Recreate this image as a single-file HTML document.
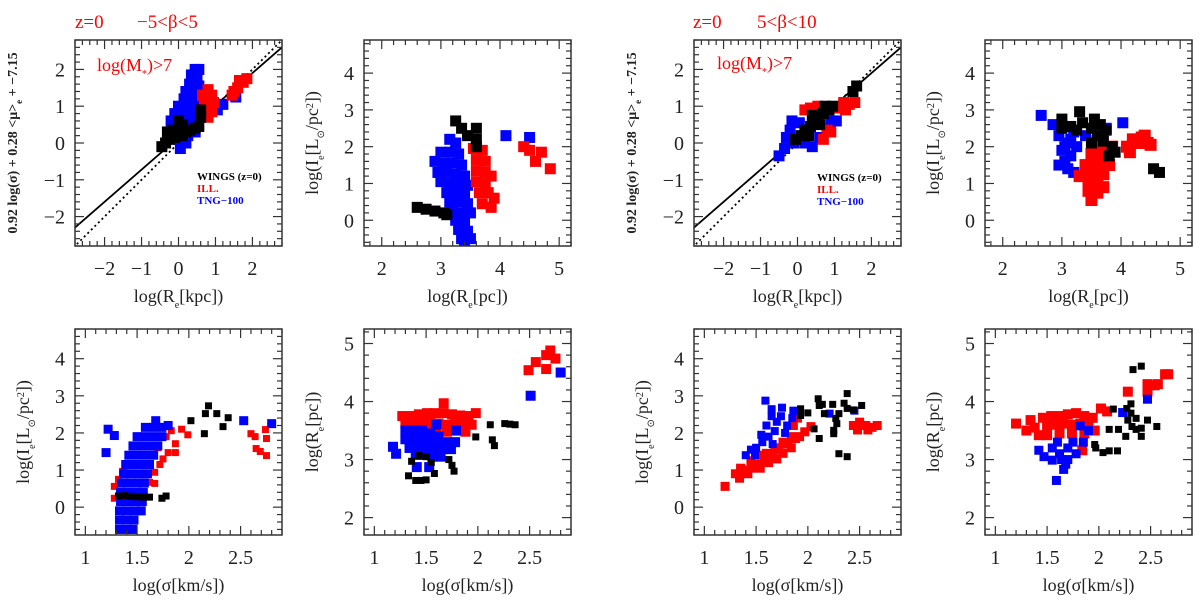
<!DOCTYPE html>
<html><head><meta charset="utf-8">
<style>
html,body{margin:0;padding:0;background:#fff;}
svg{display:block;}
text{font-family:"Liberation Serif",serif;}
</style></head>
<body>
<svg id="fig" width="1200" height="606" viewBox="0 0 1200 606" xmlns="http://www.w3.org/2000/svg">
<g>
<text x="75" y="28" fill="#f00" font-size="19">z=0</text>
<text x="137" y="28" fill="#f00" font-size="19">−5&lt;β&lt;5</text>
<text x="693" y="28" fill="#f00" font-size="19">z=0</text>
<text x="757" y="28" fill="#f00" font-size="19">5&lt;β&lt;10</text>
</g>
</svg>
<script>
// ---- data arrays ----
const p1Blue=[[0.45,2.0],[0.55,2.0],[0.35,1.85],[0.5,1.8],[0.3,1.6],[0.45,1.6],[0.55,1.55],[0.2,1.4],[0.35,1.4],[0.5,1.35],[0.15,1.2],[0.3,1.2],[0.45,1.15],[0.6,1.1],[0.0,1.0],[0.15,1.0],[0.3,1.0],[0.45,0.95],[-0.1,0.8],[0.05,0.8],[0.2,0.8],[0.4,0.75],[0.55,0.7],[-0.2,0.6],[0.1,0.55],[0.3,0.5],[0.5,0.45],[0.1,0.3],[0.25,0.2],[0.45,0.3],[0.0,0.1],[0.2,0.0],[0.05,-0.15],[1.05,0.9],[1.2,1.05],[1.55,1.25]];
const p1Red=[[0.65,1.3],[0.8,1.45],[0.9,1.3],[0.7,1.1],[0.85,1.1],[0.75,0.9],[0.9,0.85],[0.8,0.7],[0.95,1.1],[1.45,1.3],[1.6,1.5],[1.75,1.65],[1.85,1.75],[1.65,1.7],[1.5,1.4]];
const p1Black=[[-0.45,-0.1],[-0.35,0.0],[-0.25,0.1],[-0.3,0.3],[-0.15,0.35],[0.0,0.4],[0.0,0.6],[0.1,0.5],[0.2,0.3],[0.3,0.35],[0.45,0.4],[0.55,0.45],[0.6,0.7],[0.6,0.9],[0.1,0.2],[-0.1,0.15]];
const p3Blue=[[-0.5,-0.35],[-0.35,-0.15],[-0.3,0.15],[-0.2,0.35],[-0.15,0.6],[0.05,0.55],[0.2,0.0],[0.4,-0.1],[0.6,0.15],[0.8,0.4],[1.05,0.6],[0.9,0.6],[-0.1,0.0]];
const p3Red=[[0.2,0.9],[0.35,0.95],[0.55,1.0],[0.8,0.35],[0.7,0.1],[0.9,0.3],[1.1,0.95],[1.3,0.9],[1.4,1.05],[1.55,1.1],[1.25,1.1]];
const p3Black=[[-0.05,0.1],[0.1,0.2],[0.2,0.35],[0.35,0.45],[0.45,0.55],[0.55,0.7],[0.7,0.8],[0.85,0.9],[0.95,1.0],[0.4,0.75],[0.6,0.5],[0.3,0.2],[1.5,1.4],[1.6,1.55],[0.75,1.0]];
const fitSolid=[[-2.8,-2.3],[2.8,2.6]];
const fitDotted=[[-2.75,-2.75],[2.8,2.8]];
const p2Blue=[[3.15,2.2],[3.25,2.1],[3.0,1.85],[3.15,1.85],[3.3,1.8],[2.9,1.6],[3.05,1.55],[3.2,1.55],[3.35,1.5],[2.95,1.3],[3.1,1.3],[3.25,1.25],[3.4,1.2],[3.0,1.05],[3.15,1.0],[3.3,1.0],[3.45,0.95],[3.1,0.75],[3.25,0.75],[3.4,0.7],[3.15,0.5],[3.3,0.5],[3.45,0.45],[3.2,0.25],[3.35,0.2],[3.5,0.2],[3.25,0.0],[3.4,-0.05],[3.3,-0.25],[3.45,-0.3],[3.35,-0.5],[3.5,-0.5],[3.4,-0.65],[4.1,2.3],[4.5,2.25]];
const p2Red=[[3.55,1.95],[3.7,1.9],[3.6,1.65],[3.75,1.6],[3.6,1.35],[3.75,1.3],[3.85,1.2],[3.6,1.05],[3.75,1.0],[3.65,0.75],[3.8,0.75],[3.9,0.6],[3.7,0.45],[3.85,0.35],[4.4,2.0],[4.5,1.9],[4.7,1.85],[4.6,1.6],[4.85,1.4]];
const p2Black=[[3.25,2.7],[3.35,2.5],[3.45,2.3],[3.6,2.5],[3.6,2.2],[3.6,2.0],[2.6,0.35],[2.75,0.3],[2.9,0.25],[3.05,0.2],[3.1,0.15]];
const p4Blue=[[2.65,2.85],[4.03,2.65],[2.85,2.6],[3.0,2.6],[2.95,2.3],[3.1,2.1],[3.0,1.9],[3.15,1.75],[2.95,1.5],[3.1,1.4],[3.2,1.3],[3.25,2.0],[3.4,2.3],[3.5,2.0],[3.7,2.3],[3.75,2.5],[3.55,1.8],[3.05,2.0],[3.2,2.4],[3.05,1.6],[3.15,2.2]];
const p4Red=[[3.3,1.2],[3.45,1.0],[3.5,1.3],[3.6,1.0],[3.7,1.25],[3.55,1.6],[3.7,1.6],[3.8,1.5],[3.6,1.9],[3.75,1.9],[3.85,2.0],[3.5,0.55],[3.6,0.75],[3.4,1.5],[3.6,2.15],[3.45,1.15],[3.4,1.25],[3.55,1.4],[3.65,1.4],[3.5,1.8],[3.7,0.9],[3.45,0.8],[4.1,2.0],[4.2,2.2],[4.35,2.25],[4.45,2.1],[4.4,2.3],[4.15,1.85],[4.5,2.05],[4.3,2.1]];
const p4Black=[[3.0,2.75],[3.0,2.5],[3.15,2.55],[3.3,2.95],[3.35,2.65],[3.25,2.45],[3.55,2.75],[3.5,2.5],[3.65,2.6],[3.75,2.45],[3.6,2.3],[3.5,2.1],[3.7,2.15],[3.85,2.0],[3.9,1.85],[3.8,1.75],[4.55,1.4],[4.65,1.3]];
const p5Red=[[1.83,2.06],[1.93,2.1],[1.99,1.95],[1.87,1.71],[1.87,1.47],[1.8,1.47],[1.72,1.15],[1.67,0.94],[1.67,0.64],[1.62,0.67],[1.36,0.96],[1.32,0.75],[1.28,0.56],[1.28,0.24],[1.78,1.9],[1.75,1.3],[1.7,1.6],[2.6,1.98],[2.64,1.9],[2.74,2.09],[2.75,1.85],[2.65,1.58],[2.69,1.5],[2.75,1.39]];
const p5Blue=[[1.33,-0.6],[1.4,-0.6],[1.46,-0.6],[1.33,-0.35],[1.4,-0.35],[1.47,-0.35],[1.33,-0.1],[1.4,-0.1],[1.48,-0.1],[1.54,-0.1],[1.34,0.15],[1.41,0.15],[1.48,0.15],[1.55,0.15],[1.34,0.4],[1.41,0.4],[1.49,0.4],[1.56,0.4],[1.35,0.65],[1.42,0.65],[1.5,0.65],[1.57,0.65],[1.37,0.9],[1.44,0.9],[1.52,0.9],[1.6,0.9],[1.39,1.15],[1.46,1.15],[1.54,1.15],[1.62,1.15],[1.42,1.4],[1.5,1.4],[1.58,1.4],[1.66,1.4],[1.46,1.65],[1.54,1.65],[1.62,1.65],[1.7,1.65],[1.5,1.9],[1.58,1.9],[1.66,1.9],[1.74,1.9],[1.58,2.15],[1.66,2.15],[1.74,2.15],[1.68,2.33],[1.8,2.2],[1.22,2.1],[1.28,1.93],[1.2,1.47],[2.53,2.33],[2.8,2.25]];
const p5Black=[[2.02,2.33],[2.16,2.52],[2.19,2.73],[2.27,2.52],[2.38,2.41],[2.33,2.17],[2.15,1.98],[1.32,0.3],[1.38,0.31],[1.44,0.29],[1.5,0.28],[1.56,0.27],[1.62,0.27],[1.74,0.24],[1.78,0.3]];
const p6Red=[[1.27,3.75],[1.35,3.75],[1.43,3.78],[1.51,3.8],[1.59,3.8],[1.67,3.97],[1.67,3.8],[1.75,3.78],[1.83,3.76],[1.91,3.75],[1.98,3.8],[1.3,3.62],[1.38,3.62],[1.46,3.64],[1.54,3.64],[1.62,3.62],[1.7,3.6],[1.78,3.62],[1.86,3.6],[1.94,3.6],[1.6,3.5],[1.7,3.48],[1.8,3.5],[1.88,3.48],[1.52,3.52],[2.49,4.54],[2.56,4.68],[2.66,4.8],[2.7,4.88],[2.75,4.74],[2.66,4.56]];
const p6Blue=[[1.3,3.5],[1.38,3.5],[1.46,3.5],[1.54,3.45],[1.62,3.4],[1.3,3.35],[1.38,3.35],[1.46,3.35],[1.54,3.3],[1.62,3.3],[1.7,3.3],[1.78,3.3],[1.34,3.2],[1.42,3.2],[1.5,3.2],[1.58,3.18],[1.66,3.18],[1.74,3.18],[1.4,3.08],[1.48,3.08],[1.56,3.05],[1.64,3.05],[1.18,3.22],[1.21,3.1],[1.41,2.87],[1.53,2.87],[1.6,3.6],[1.79,3.5],[2.51,4.1],[2.8,4.5]];
const p6Black=[[1.33,2.72],[1.4,2.64],[1.45,2.64],[1.5,2.65],[1.36,2.97],[1.43,3.07],[1.5,3.05],[1.58,2.76],[1.55,2.95],[1.72,3.0],[1.75,2.9],[1.77,2.8],[1.98,3.39],[2.12,3.6],[2.14,3.34],[2.16,3.24],[2.26,3.62],[2.31,3.61],[2.36,3.6]];
const p7Red=[[1.2,0.56],[1.3,0.9],[1.34,0.78],[1.38,1.0],[1.42,0.9],[1.46,1.05],[1.5,1.15],[1.54,1.05],[1.58,1.25],[1.62,1.2],[1.66,1.4],[1.7,1.3],[1.72,1.55],[1.76,1.45],[1.8,1.7],[1.84,1.6],[1.88,1.85],[1.92,1.9],[1.86,2.2],[1.9,2.4],[1.97,2.03],[2.03,2.17],[1.55,1.4],[1.45,1.25],[1.35,1.05],[1.6,1.45],[1.68,1.6],[1.76,1.75],[1.84,1.9],[2.44,2.2],[2.5,2.29],[2.56,2.2],[2.62,2.15],[2.67,2.2],[2.48,2.08],[2.58,2.08]];
const p7Blue=[[1.59,2.87],[1.65,2.64],[1.75,2.68],[1.86,2.6],[1.49,1.39],[1.4,1.4],[1.5,1.6],[1.56,1.75],[1.62,1.9],[1.68,2.05],[1.6,2.2],[1.7,2.3],[1.74,2.45],[1.8,2.2],[1.78,2.0],[1.85,2.4],[1.66,1.7],[1.45,1.55],[1.55,1.95],[1.65,2.45],[2.21,2.52],[2.45,2.6]];
const p7Black=[[1.93,2.65],[1.93,2.47],[2.0,2.54],[2.06,2.11],[2.1,2.92],[2.11,2.74],[2.14,2.77],[2.24,2.77],[2.16,2.52],[2.11,1.85],[2.25,2.07],[2.27,2.39],[2.3,2.52],[2.28,2.25],[2.25,1.98],[2.3,1.44],[2.38,3.06],[2.35,2.8],[2.38,2.66],[2.44,2.62],[2.52,2.74],[2.38,1.36]];
const p8Red=[[1.2,3.62],[1.34,3.68],[1.3,3.5],[1.38,3.55],[1.46,3.72],[1.54,3.75],[1.62,3.75],[1.7,3.78],[1.78,3.8],[1.86,3.75],[1.94,3.72],[1.42,3.42],[1.5,3.58],[1.58,3.6],[1.66,3.62],[1.74,3.6],[1.82,3.62],[1.9,3.58],[1.5,3.42],[1.62,3.45],[1.74,3.45],[1.86,3.45],[1.96,3.5],[2.02,3.88],[2.08,3.83],[1.84,3.16],[2.28,4.17],[2.47,4.3],[2.54,4.28],[2.47,4.17],[2.64,4.47],[2.67,4.47],[2.57,4.3]];
const p8Blue=[[1.42,3.16],[1.47,3.05],[1.55,2.99],[1.66,2.83],[1.59,2.64],[1.82,3.58],[1.9,3.5],[1.55,3.2],[1.62,3.1],[1.7,3.2],[1.7,3.0],[1.78,3.1],[1.85,3.3],[1.6,3.3],[1.68,2.92],[1.75,3.3],[1.64,3.0],[2.23,3.81],[2.47,4.04]];
const p8Black=[[1.96,3.26],[1.97,3.2],[2.04,3.12],[2.1,3.15],[2.18,3.15],[2.1,3.52],[2.19,3.52],[2.14,3.87],[2.26,3.4],[2.27,3.88],[2.31,3.96],[2.28,3.68],[2.31,3.8],[2.36,3.71],[2.32,3.57],[2.36,3.52],[2.41,3.54],[2.41,3.4],[2.47,3.68],[2.56,3.57],[2.33,4.55],[2.41,4.61]];
const xTicksRe=["−2","−1","0","1","2"];
const xTicksRpc=["2","3","4","5"];
const xTicksSig=["1","1.5","2","2.5"];
const yTicksFP=["−2","−1","0","1","2"];
const yTicksI=["0","1","2","3","4"];
const yTicksR=["2","3","4","5"];

const NS="http://www.w3.org/2000/svg";
const svg=document.getElementById('fig');
function el(tag,attrs,parent){const e=document.createElementNS(NS,tag);for(const k in attrs)e.setAttribute(k,attrs[k]);(parent||svg).appendChild(e);return e;}

const COLX=[75,364,694,985], ROWY=[40,329], W=207, H=206;
function panel(name,col,row,xr,yr,xMaj,xMin,yMaj,yMin,xt,yt,xTitle,yTitle,series,extra){
  const x0=COLX[col],y0=ROWY[row];
  const g=el('g',{});
  
  
  const sx=v=>x0+(v-xr[0])/(xr[1]-xr[0])*W;
  const sy=v=>y0+H-(v-yr[0])/(yr[1]-yr[0])*H;
  const clip=el('clipPath',{id:'c'+name},g);
  el('rect',{x:x0,y:y0,width:W,height:H},clip);
  const pts=el('g',{'clip-path':'url(#c'+name+')'},g);
  
  
  if(extra)extra(pts,sx,sy);
  series.forEach(s=>{
    s.data.forEach(p=>{
      const r=el('rect',{x:sx(p[0])-s.sz/2,y:sy(p[1])-s.sz/2,width:s.sz,height:s.sz,fill:s.color},pts);
      
      
    });
  });
  const tk=el('g',{stroke:'#333','stroke-width':1.2},g);
  
  
  const eps=1e-6;
  for(let v=Math.ceil(xr[0]/xMin-eps)*xMin; v<=xr[1]+eps; v+=xMin){
    const maj=Math.abs(v/xMaj-Math.round(v/xMaj))<1e-3, L=maj?9:5, X=sx(v);
    el('line',{x1:X,y1:y0+H,x2:X,y2:y0+H-L},tk);el('line',{x1:X,y1:y0,x2:X,y2:y0+L},tk);
  }
  for(let v=Math.ceil(yr[0]/yMin-eps)*yMin; v<=yr[1]+eps; v+=yMin){
    const maj=Math.abs(v/yMaj-Math.round(v/yMaj))<1e-3, L=maj?9:5, Y=sy(v);
    el('line',{x1:x0,y1:Y,x2:x0+L,y2:Y},tk);el('line',{x1:x0+W,y1:Y,x2:x0+W-L,y2:Y},tk);
  }
  const fr=el('rect',{x:x0,y:y0,width:W,height:H,fill:'none',stroke:'#333','stroke-width':1.5},g);
  
  
  xt.forEach(t=>{const v=parseFloat(t.replace('−','-'));
    const e=el('text',{x:sx(v),y:y0+H+29,'text-anchor':'middle','font-size':20,fill:'#222'},g);e.textContent=t;
    
    });
  yt.forEach(t=>{const v=parseFloat(t.replace('−','-'));
    const e=el('text',{x:x0-10,y:sy(v)+7,'text-anchor':'end','font-size':20,fill:'#222'},g);e.textContent=t;
    
    });
  const xtEl=el('text',{x:x0+W/2,y:y0+H+56,'text-anchor':'middle','font-size':18,fill:'#222'},g);
  xtEl.innerHTML=xTitle;
  
  
  const ytEl=el('text',{transform:`translate(${x0-(yTitle.sans?58:46)},${y0+H/2}) rotate(-90)`,'text-anchor':'middle','font-size':yTitle.sans?14:18,fill:'#222'},g);
  if(yTitle.sans){ytEl.setAttribute('font-family','"Liberation Sans",sans-serif');ytEl.setAttribute('font-weight','bold');}
  ytEl.innerHTML=yTitle.t;
  
  
}
const tRe='log(R<tspan baseline-shift="sub" font-size="10">e</tspan>[kpc])';
const tRpc='log(R<tspan baseline-shift="sub" font-size="10">e</tspan>[pc])';
const tSig='log(σ[km/s])';
const tI='log(I<tspan baseline-shift="sub" font-size="10">e</tspan>[L<tspan baseline-shift="sub" font-size="10">⊙</tspan>/pc<tspan baseline-shift="super" font-size="10">2</tspan>])';
const tFP={t:'0.92 log(σ) + 0.28 &lt;μ&gt;<tspan baseline-shift="sub" font-size="9">e</tspan> + −7.15',sans:true};
function fpExtra(){return (g,sx,sy)=>{
  const a=el('line',{x1:sx(fitSolid[0][0]),y1:sy(fitSolid[0][1]),x2:sx(fitSolid[1][0]),y2:sy(fitSolid[1][1]),stroke:'#000','stroke-width':1.8},g);
  
  
  const b=el('line',{x1:sx(fitDotted[0][0]),y1:sy(fitDotted[0][1]),x2:sx(fitDotted[1][0]),y2:sy(fitDotted[1][1]),stroke:'#000','stroke-width':1.8,'stroke-dasharray':'2,3'},g);
  
  
};}
function legend(x,y){
  const items=[['WINGS (z=0)','#000'],['ILL.','#f00'],['TNG−100','#00f']];
  items.forEach((it,i)=>{const e=el('text',{x:x,y:y+i*12,'font-size':11,'font-weight':'bold',fill:it[1],'font-family':'"Liberation Mono",monospace'});e.textContent=it[0];
    
    });
}
function mass(x,y){const e=el('text',{x:x,y:y,'font-size':18,fill:'#f00'});e.innerHTML='log(M<tspan baseline-shift="sub" font-size="10">*</tspan>)&gt;7';
  
  }

const B=11,S=7;
panel('fp-left',0,0,[-2.8,2.8],[-2.8,2.8],1,0.2,1,0.2,xTicksRe,yTicksFP,tRe,tFP,
 [{name:'tng',color:'#00f',data:p1Blue,sz:B},{name:'ill',color:'#f00',data:p1Red,sz:B},{name:'wings',color:'#000',data:p1Black,sz:B}],fpExtra());
panel('ie-re-left',1,0,[1.7,5.2],[-0.7,4.9],1,0.2,1,0.2,xTicksRpc,yTicksI,tRpc,{t:tI},
 [{name:'tng',color:'#00f',data:p2Blue,sz:B},{name:'ill',color:'#f00',data:p2Red,sz:B},{name:'wings',color:'#000',data:p2Black,sz:B}]);
panel('fp-right',2,0,[-2.8,2.8],[-2.8,2.8],1,0.2,1,0.2,xTicksRe,yTicksFP,tRe,tFP,
 [{name:'tng',color:'#00f',data:p3Blue,sz:B},{name:'ill',color:'#f00',data:p3Red,sz:B},{name:'wings',color:'#000',data:p3Black,sz:B}],fpExtra());
panel('ie-re-right',3,0,[1.7,5.2],[-0.7,4.9],1,0.2,1,0.2,xTicksRpc,yTicksI,tRpc,{t:tI},
 [{name:'tng',color:'#00f',data:p4Blue,sz:B},{name:'ill',color:'#f00',data:p4Red,sz:B+1},{name:'wings',color:'#000',data:p4Black,sz:B}]);
panel('ie-sigma-left',0,1,[0.9,2.9],[-0.75,4.8],0.5,0.1,1,0.2,xTicksSig,yTicksI,tSig,{t:tI},
 [{name:'ill',color:'#f00',data:p5Red,sz:S},{name:'tng',color:'#00f',data:p5Blue,sz:9},{name:'wings',color:'#000',data:p5Black,sz:S}]);
panel('re-sigma-left',1,1,[0.9,2.9],[1.7,5.25],0.5,0.1,1,0.2,xTicksSig,yTicksR,tSig,{t:tRpc},
 [{name:'ill',color:'#f00',data:p6Red,sz:10},{name:'tng',color:'#00f',data:p6Blue,sz:10},{name:'wings',color:'#000',data:p6Black,sz:S}]);
panel('ie-sigma-right',2,1,[0.9,2.9],[-0.75,4.8],0.5,0.1,1,0.2,xTicksSig,yTicksI,tSig,{t:tI},
 [{name:'ill',color:'#f00',data:p7Red,sz:9},{name:'tng',color:'#00f',data:p7Blue,sz:8},{name:'wings',color:'#000',data:p7Black,sz:S}]);
panel('re-sigma-right',3,1,[0.9,2.9],[1.7,5.25],0.5,0.1,1,0.2,xTicksSig,yTicksR,tSig,{t:tRpc},
 [{name:'ill',color:'#f00',data:p8Red,sz:10},{name:'tng',color:'#00f',data:p8Blue,sz:9},{name:'wings',color:'#000',data:p8Black,sz:S}]);
legend(197,180);legend(817,181);
mass(97,71);mass(717,69);
</script>
</body></html>
